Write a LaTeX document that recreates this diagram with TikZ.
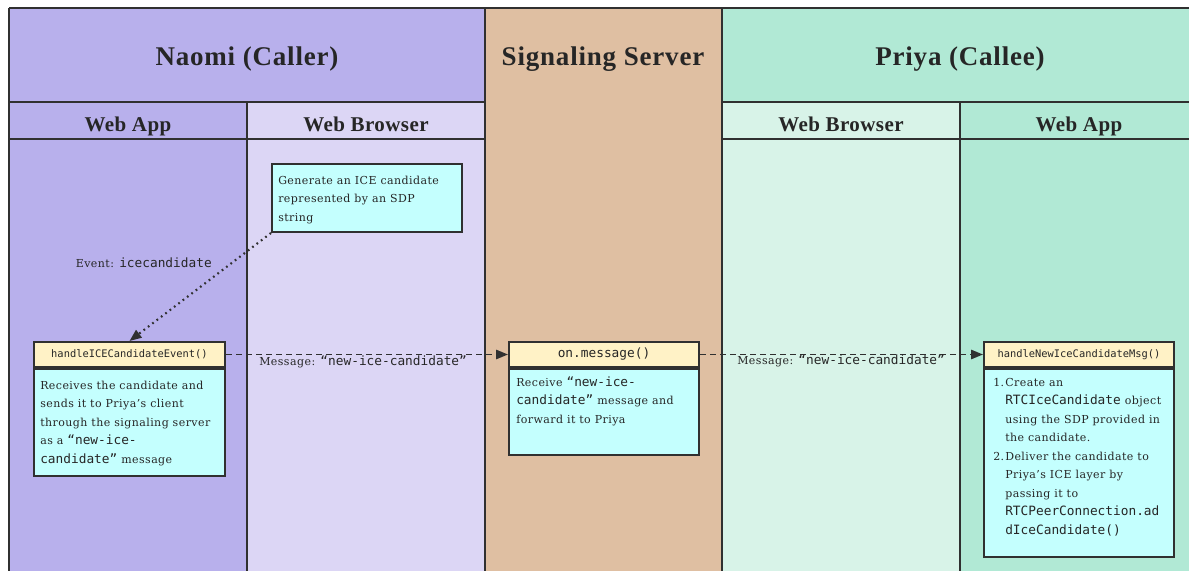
\documentclass[tikz,border=0pt]{standalone}
\usepackage{fontspec}
\setmainfont{DejaVu Serif}[LetterSpace=4]
\setmonofont{DejaVu Sans Mono}
\newfontfamily\headfont{Liberation Serif}[LetterSpace=3]
\newfontfamily\subfont{Liberation Serif}[LetterSpace=2]
\usetikzlibrary{arrows.meta}
\definecolor{naomiA}{HTML}{B8B0EC}
\definecolor{naomiB}{HTML}{DCD6F5}
\definecolor{servc}{HTML}{DFBFA2}
\definecolor{priyaA}{HTML}{B1E9D5}
\definecolor{priyaB}{HTML}{D8F3E8}
\definecolor{hdrc}{HTML}{FFF2C6}
\definecolor{bodyc}{HTML}{C4FFFE}
\definecolor{linec}{HTML}{303030}
\definecolor{textc}{HTML}{262626}
\newcommand{\pxu}{0.75pt}
\newcommand{\code}[1]{{\ttfamily\fontsize{9.6}{13.9}\selectfont #1}}
\tikzset{
  lane/.style={line width=1.5pt, draw=linec},
  title/.style={font=\headfont\bfseries\fontsize{20.25}{24}\selectfont, text=textc, inner sep=0pt, anchor=base},
  subtitle/.style={font=\subfont\bfseries\fontsize{15.75}{18}\selectfont, text=textc, inner sep=0pt, anchor=base},
  fhdr/.style={draw=linec, line width=1.5pt, fill=hdrc, inner sep=0pt, anchor=north west, text=textc, minimum width={190*\pxu}, minimum height={25*\pxu}},
  fbody/.style={draw=linec, line width=1.5pt, fill=bodyc, inner sep=0pt, anchor=north west, minimum width={190*\pxu}},
  btext/.style={anchor=north west, inner sep=0pt, align=left, text=textc, font=\fontsize{8.25}{13.9}\selectfont},
  lbl/.style={inner sep=0pt, text=textc, font=\fontsize{8.25}{13.9}\selectfont},
  msg/.style={-{Triangle[length=9pt,width=7pt]}, line width=1.4pt, dash pattern=on 4.5pt off 3pt, draw=linec},
  evt/.style={-{Triangle[length=9pt,width=7pt]}, line width=1.6pt, dash pattern=on 1.3pt off 2.8pt, draw=linec}
}
\begin{document}
\begin{tikzpicture}[x=0.75pt,y=-0.75pt]
\useasboundingbox (0,0) rectangle (1189,571);
\clip (0,0) rectangle (1189,571);
% lane fills
\fill[naomiA] (9,8) rectangle (485,102);
\fill[naomiA] (9,102) rectangle (247,580);
\fill[naomiB] (247,102) rectangle (485,580);
\fill[servc] (485,8) rectangle (722,580);
\fill[priyaA] (722,8) rectangle (1198,102);
\fill[priyaB] (722,102) rectangle (960,580);
\fill[priyaA] (960,102) rectangle (1198,580);
% lane lines
\draw[lane] (9,8) -- (1198,8);
\draw[lane] (9,8) -- (9,580);
\draw[lane] (485,8) -- (485,580);
\draw[lane] (722,8) -- (722,580);
\draw[lane] (247,102) -- (247,580);
\draw[lane] (960,102) -- (960,580);
\draw[lane] (9,102) -- (485,102);
\draw[lane] (722,102) -- (1198,102);
\draw[lane,line width=1.2pt] (9,139) -- (485,139);
\draw[lane,line width=1.2pt] (722,139) -- (1198,139);
% titles
\node[title] (naomi) at (247,65) {Naomi (Caller)};
\node[title] (server) at (603,65) {Signaling Server};
\node[title] (priya) at (960,65) {Priya (Callee)};
\node[subtitle] (napp) at (128,131) {Web App};
\node[subtitle] (nbrw) at (366,131) {Web Browser};
\node[subtitle] (pbrw) at (841,131) {Web Browser};
\node[subtitle] (papp) at (1079,131) {Web App};
% generate box
\node[fbody, minimum height={68*\pxu}] (gen) at (271,163) {};
\node[btext] (gentext) at (278,171) {\strut Generate an ICE candidate\\represented by an SDP\\string};
% handleICECandidateEvent
\node[fhdr, minimum width={191*\pxu}, font=\ttfamily\fontsize{7.8}{9}\selectfont] (h1) at (33,341) {handleICECandidateEvent()};
\node[fbody, minimum width={191*\pxu}, minimum height={107*\pxu}] (b1) at (h1.south west) {};
\node[btext] (t1) at (40,376) {\strut Receives the candidate and\\sends it to Priya’s client\\through the signaling server\\as a \code{“new-ice-}\\\code{candidate”} message};
% on.message
\node[fhdr, font=\ttfamily\fontsize{9.6}{11}\selectfont] (h2) at (508,341) {on.message()};
\node[fbody, minimum height={86*\pxu}] (b2) at (h2.south west) {};
\node[btext] (t2) at (516,373) {\strut Receive \code{“new-ice-}\\\code{candidate”} message and\\forward it to Priya};
% handleNewIceCandidateMsg
\node[fhdr, font=\ttfamily\fontsize{7.8}{9}\selectfont] (h3) at (983,341) {handleNewIceCandidateMsg()};
\node[fbody, minimum height={188*\pxu}] (b3) at (h3.south west) {};
\node[btext] (t3) at (993,373) {\begin{tabular}{@{}p{9pt}@{}l@{}}
1. & Create an\\
 & \code{RTCIceCandidate} object\\
 & using the SDP provided in\\
 & the candidate.\\
2. & Deliver the candidate to\\
 & Priya’s ICE layer by\\
 & passing it to\\
 & \code{RTCPeerConnection.ad}\\
 & \code{dIceCandidate()}
\end{tabular}};
% connectors
\draw[evt] (gen.south west) -- (h1.north);
\node[lbl, anchor=base east] (ev) at (212,267) {Event: \code{icecandidate}};
\draw[msg] (h1.east) -- (h2.west);
\node[lbl, anchor=base west] (m1) at (259,365) {Message: \code{“new-ice-candidate”}};
\draw[msg] (h2.east) -- (h3.west);
\node[lbl, anchor=base west] (m2) at (737,364) {Message: \code{“new-ice-candidate”}};
\end{tikzpicture}
\end{document}
